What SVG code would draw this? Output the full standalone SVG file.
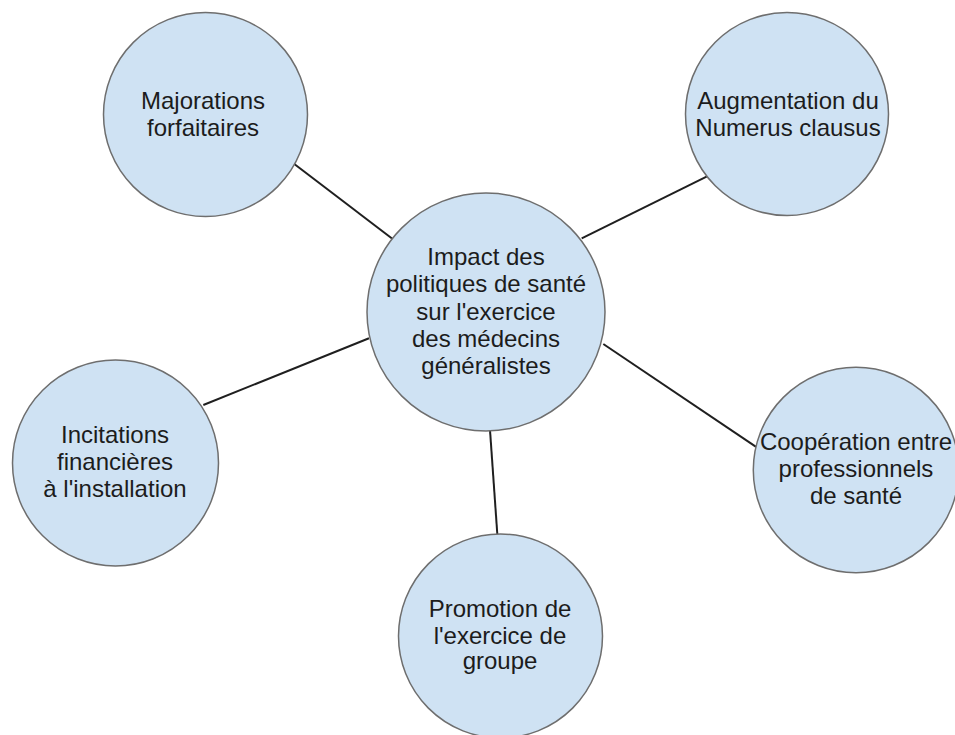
<svg xmlns="http://www.w3.org/2000/svg" width="955" height="735" viewBox="0 0 955 735">
<style>
.n{fill:#cfe2f3;stroke:#6e6e6e;stroke-width:1.5}
.t{font-family:"Liberation Sans",Arial,sans-serif;font-size:24px;fill:#1c1c1c;text-anchor:middle}
.c{stroke:#1f1f1f;stroke-width:2;fill:none}
</style>
<rect width="955" height="735" fill="#fff"/>
<g id="connectors">
<line class="c" x1="293" y1="163" x2="392" y2="238.5"/>
<line class="c" x1="716.7" y1="171.7" x2="581.7" y2="238.3"/>
<line class="c" x1="203.3" y1="405" x2="369" y2="338.3"/>
<line class="c" x1="603.3" y1="344" x2="758.3" y2="448.3"/>
<line class="c" x1="490" y1="430" x2="497.3" y2="534"/>
</g>
<g id="center">
<circle class="n" cx="486" cy="312" r="119"/>
<text class="t" x="486" y="265">Impact des</text>
<text class="t" x="486" y="292">politiques de santé</text>
<text class="t" x="486" y="319.5">sur l'exercice</text>
<text class="t" x="486" y="346.5">des médecins</text>
<text class="t" x="486" y="373.5">généralistes</text>
</g>
<g id="majorations">
<circle class="n" cx="205.5" cy="114.5" r="102"/>
<text class="t" x="203" y="109">Majorations</text>
<text class="t" x="203" y="135.5">forfaitaires</text>
</g>
<g id="augmentation">
<circle class="n" cx="787" cy="114" r="101.5"/>
<text class="t" x="788" y="109">Augmentation du</text>
<text class="t" x="788" y="135.5">Numerus clausus</text>
</g>
<g id="incitations">
<circle class="n" cx="115.5" cy="463" r="103"/>
<text class="t" x="115" y="443.3">Incitations</text>
<text class="t" x="115" y="470.3">financières</text>
<text class="t" x="115" y="497">à l'installation</text>
</g>
<g id="cooperation">
<circle class="n" cx="856" cy="470" r="102.7"/>
<text class="t" x="856" y="450">Coopération entre</text>
<text class="t" x="856" y="477">professionnels</text>
<text class="t" x="856" y="503.5">de santé</text>
</g>
<g id="promotion">
<circle class="n" cx="500.5" cy="636" r="102"/>
<text class="t" x="500" y="617">Promotion de</text>
<text class="t" x="500" y="643.5">l'exercice de</text>
<text class="t" x="500" y="669">groupe</text>
</g>
</svg>
